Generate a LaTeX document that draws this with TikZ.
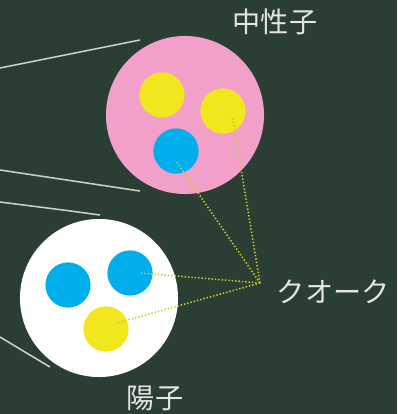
\documentclass[tikz,border=0pt]{standalone}
\usepackage{fontspec}
\newfontfamily\jpfont{Noto Sans CJK JP}
\usetikzlibrary{
	calc,
	backgrounds
}
\usepackage{xcolor}
\definecolor{board}{RGB}{42,62,52}
\definecolor{chalk}{RGB}{205,208,204}
\definecolor{nucpink}{RGB}{242,160,202}
\definecolor{qyellow}{RGB}{242,230,30}
\definecolor{qblue}{RGB}{0,174,236}
\definecolor{dotline}{RGB}{206,204,40}
\tikzset{
	nucleon/.style={circle, inner sep=0pt, minimum size=3.95cm},
	quark/.style={circle, inner sep=0pt, minimum size=1.13cm},
	label/.style={text=white!90!black, font=\jpfont\fontsize{20}{22}\selectfont},
	pointer/.style={dotline, line width=1.1pt, dash pattern=on 1pt off 1.4pt},
	chalkline/.style={chalk, line width=1.1pt}
}

\begin{document}
\begin{tikzpicture}[x=0.025cm, y=-0.025cm]
                \fill[board] (0,0) rectangle (397,414);
                \useasboundingbox (0,0) rectangle (397,414);
                % lines leading to the two nucleons
                \draw[chalkline] (0,68) -- (140,40);
                \draw[chalkline] (0,170) -- (140,191);
                \draw[chalkline] (0,202) -- (63,210) -- (100,215);
                \draw[chalkline] (0,337) -- (50,367);
                % neutron
                \node[nucleon, fill=nucpink] (neutron) at (185,115) {};
                \node[quark, fill=qyellow] (ny1) at (162,95) {};
                \node[quark, fill=qyellow] (ny2) at (223,111) {};
                \node[quark, fill=qblue] (nb) at (176,151) {};
                % proton
                \node[nucleon, fill=white] (proton) at (99,298) {};
                \node[quark, fill=qblue] (pb1) at (68,285) {};
                \node[quark, fill=qblue] (pb2) at (130,273) {};
                \node[quark, fill=qyellow] (py) at (106,329) {};
                % labels
                \node[label] (nlabel) at (275,22) {中性子};
                \node[label] (plabel) at (155,398) {陽子};
                \node[label, anchor=west] (qlabel) at (272,292) {クオーク};
                \coordinate (qk) at (260,283);
                \draw[pointer] (qk) -- ($(nb)!.5!(nb.-85)$);
                \draw[pointer] (qk) -- ($(ny2)!.5!(ny2.-34)$);
                \draw[pointer] (qk) -- ($(pb2)!.45!(pb2.east)$);
                \draw[pointer] (qk) -- ($(py)!.5!(py.30)$);
            \end{tikzpicture}
\end{document}
